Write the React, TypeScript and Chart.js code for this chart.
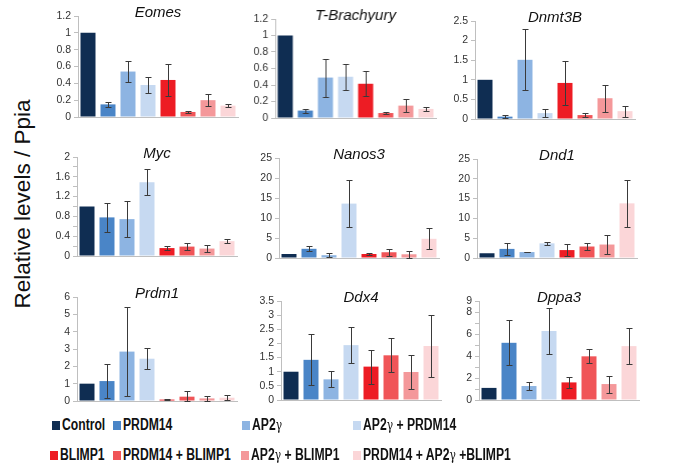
import React, { useEffect, useRef } from "react";
import { Chart, registerables } from "chart.js";

Chart.register(...registerables);

// ---------- data ----------
const groups = [
  "Control",
  "PRDM14",
  "AP2γ",
  "AP2γ + PRDM14",
  "BLIMP1",
  "PRDM14 + BLIMP1",
  "AP2γ + BLIMP1",
  "PRDM14 + AP2γ +BLIMP1",
];
const groupColors = [
  "#0f2d52",
  "#4a85c7",
  "#8db4e2",
  "#c6d9f1",
  "#ed1c24",
  "#f05558",
  "#f4989a",
  "#fbd6d8",
];

const eomesMean = [1.0, 0.15, 0.54, 0.38, 0.44, 0.06, 0.2, 0.135];
const eomesErr = [0, 0.03, 0.13, 0.1, 0.19, 0.015, 0.07, 0.015];
const tbraMean = [1.0, 0.09, 0.49, 0.5, 0.415, 0.06, 0.15, 0.11];
const tbraErr = [0, 0.025, 0.23, 0.16, 0.15, 0.01, 0.08, 0.025];
const dnmt3bMean = [1.0, 0.06, 1.51, 0.15, 0.92, 0.1, 0.53, 0.2];
const dnmt3bErr = [0, 0.04, 0.78, 0.1, 0.57, 0.05, 0.34, 0.14];
const mycMean = [1.0, 0.78, 0.745, 1.49, 0.16, 0.19, 0.15, 0.3];
const mycErr = [0, 0.3, 0.37, 0.26, 0.035, 0.07, 0.075, 0.045];
const nanos3Mean = [1.0, 2.3, 0.7, 13.6, 1.0, 1.44, 0.93, 4.8];
const nanos3Err = [0, 0.6, 0.5, 5.9, 0.3, 0.9, 0.9, 2.65];
const dnd1Mean = [1.2, 2.3, 1.5, 3.7, 2.0, 2.9, 3.4, 13.8];
const dnd1Err = [0, 1.5, 0.1, 0.3, 1.6, 1.0, 2.3, 5.95];
const prdm1Mean = [1.0, 1.15, 2.85, 2.44, 0.08, 0.25, 0.15, 0.19];
const prdm1Err = [0, 0.97, 2.55, 0.62, 0.05, 0.32, 0.14, 0.16];
const ddx4Mean = [1.0, 1.42, 0.73, 1.94, 1.18, 1.58, 0.99, 1.91];
const ddx4Err = [0, 0.9, 0.28, 0.63, 0.6, 0.6, 0.6, 1.1];
const dppa3Mean = [1.1, 5.2, 1.27, 6.27, 1.6, 3.97, 1.45, 4.9];
const dppa3Err = [0, 2.05, 0.35, 2.1, 0.47, 0.63, 0.77, 1.65];

// axis: [max, tick step, label step]
const eomesAxis = [1.2, 0.2, 0.2];
const tbraAxis = [1.2, 0.2, 0.2];
const dnmt3bAxis = [2.5, 0.5, 0.5];
const mycAxis = [2, 0.2, 0.4];
const nanos3Axis = [25, 5, 5];
const dnd1Axis = [25, 5, 5];
const prdm1Axis = [6, 1, 1];
const ddx4Axis = [3.5, 0.5, 0.5];
const dppa3Axis = [9, 1, 2];

const yAxisTitle = "Relative levels / Ppia";

// ---------- layout ----------
type Panel = {
  title: string;
  mean: number[];
  err: number[];
  axis: number[];
  rect: number[]; // plot area: left, top, right, bottom (page px)
};

const panels: Panel[] = [
  { title: "Eomes", mean: eomesMean, err: eomesErr, axis: eomesAxis, rect: [78, 16, 238, 117] },
  { title: "T-Brachyury", mean: tbraMean, err: tbraErr, axis: tbraAxis, rect: [275, 19, 435.5, 118] },
  { title: "Dnmt3B", mean: dnmt3bMean, err: dnmt3bErr, axis: dnmt3bAxis, rect: [475, 21, 635, 119] },
  { title: "Myc", mean: mycMean, err: mycErr, axis: mycAxis, rect: [77, 157, 237, 256] },
  { title: "Nanos3", mean: nanos3Mean, err: nanos3Err, axis: nanos3Axis, rect: [278.5, 158, 438.5, 258] },
  { title: "Dnd1", mean: dnd1Mean, err: dnd1Err, axis: dnd1Axis, rect: [477, 159, 637, 258] },
  { title: "Prdm1", mean: prdm1Mean, err: prdm1Err, axis: prdm1Axis, rect: [77, 297, 237, 401] },
  { title: "Ddx4", mean: ddx4Mean, err: ddx4Err, axis: ddx4Axis, rect: [280.5, 301, 440.5, 400] },
  { title: "Dppa3", mean: dppa3Mean, err: dppa3Err, axis: dppa3Axis, rect: [479, 301, 639, 400] },
];

const PL = 40;
const PT = 16;
const PR = 4;
const PB = 10;
const AXIS_COLOR = "#bfbfbf";
const FONT = "'Liberation Sans', Arial, sans-serif";

const errorBarPlugin = {
  id: "errorBars",
  afterDatasetsDraw(chart: any, _args: any, opts: any) {
    const err: number[] = opts.err || [];
    const meta = chart.getDatasetMeta(0);
    const yScale = chart.scales.y;
    const data = chart.data.datasets[0].data as number[];
    const ctx = chart.ctx;
    ctx.save();
    ctx.strokeStyle = "#3a3a3a";
    ctx.lineWidth = 1;
    meta.data.forEach((el: any, i: number) => {
      const e = err[i];
      if (!e) return;
      const v = data[i];
      const x = Math.round(el.x) + 0.5;
      const yt = Math.round(yScale.getPixelForValue(v + e)) + 0.5;
      const yb = Math.round(yScale.getPixelForValue(Math.max(v - e, 0))) + 0.5;
      ctx.beginPath();
      ctx.moveTo(x, yt);
      ctx.lineTo(x, yb);
      ctx.moveTo(x - 3, yt);
      ctx.lineTo(x + 3, yt);
      ctx.moveTo(x - 3, yb);
      ctx.lineTo(x + 3, yb);
      ctx.stroke();
    });
    ctx.restore();
  },
};

const panelTitlePlugin = {
  id: "panelTitle",
  afterDraw(chart: any, _args: any, opts: any) {
    const { ctx, chartArea } = chart;
    ctx.save();
    ctx.font = `italic 15px ${FONT}`;
    ctx.fillStyle = "#111";
    ctx.textAlign = "center";
    ctx.textBaseline = "middle";
    ctx.fillText(opts.text, (chartArea.left + chartArea.right) / 2, chartArea.top - 3);
    ctx.restore();
  },
};

function PanelChart({ panel }: { panel: Panel }) {
  const ref = useRef<HTMLCanvasElement>(null);
  const [l, t, r, b] = panel.rect;
  const w = r - l + PL + PR;
  const h = b - t + PT + PB;
  useEffect(() => {
    const [max, step, labelStep] = panel.axis;
    const chart = new Chart(ref.current as HTMLCanvasElement, {
      type: "bar",
      data: {
        labels: groups,
        datasets: [
          {
            data: panel.mean,
            backgroundColor: groupColors,
            borderWidth: 0,
            categoryPercentage: 1,
            barPercentage: 0.75,
          },
        ],
      },
      options: {
        animation: false,
        responsive: false,
        maintainAspectRatio: false,
        devicePixelRatio: 1,
        layout: { padding: { left: 0, top: PT, right: PR, bottom: PB } },
        plugins: {
          legend: { display: false },
          tooltip: { enabled: false },
          title: { display: false },
          errorBars: { err: panel.err },
          panelTitle: { text: panel.title },
        } as any,
        scales: {
          x: {
            grid: { display: false, drawTicks: false },
            border: { display: true, color: AXIS_COLOR, width: 1 },
            ticks: { display: false },
            afterFit: (s: any) => {
              s.height = 0;
            },
          },
          y: {
            min: 0,
            max,
            afterBuildTicks: (s: any) => {
              const ticks = [];
              const n = Math.round(max / step);
              for (let i = 0; i <= n; i++) ticks.push({ value: +(i * step).toFixed(4) });
              s.ticks = ticks;
            },
            ticks: {
              autoSkip: false,
              padding: 3,
              color: "#333",
              font: { family: FONT, size: 10.5 },
              callback: (v: any) => {
                const val = Number(v);
                const q = val / labelStep;
                const isLabel = Math.abs(q - Math.round(q)) < 1e-6 || Math.abs(val - max) < 1e-6;
                return isLabel ? String(+val.toFixed(2)) : "";
              },
            },
            grid: { drawOnChartArea: false, tickLength: 4, color: AXIS_COLOR },
            border: { display: true, color: AXIS_COLOR, width: 1 },
            afterFit: (s: any) => {
              s.width = PL;
            },
          },
        },
      },
      plugins: [errorBarPlugin, panelTitlePlugin],
    });
    return () => chart.destroy();
  }, []);
  return (
    <div style={{ position: "absolute", left: l - PL, top: t - PT, width: w, height: h }}>
      <canvas ref={ref} width={w} height={h} style={{ width: w, height: h, display: "block" }} />
    </div>
  );
}

const legendRow1 = [0, 1, 2, 3];
const legendRow2 = [4, 5, 6, 7];
const legendX1 = [52, 113, 242, 353];
const legendX2 = [50, 113, 241, 353];

function LegendLabel({ text }: { text: string }) {
  const parts = text.split("γ");
  const out: any[] = [];
  parts.forEach((p, i) => {
    out.push(<span key={"p" + i}>{p}</span>);
    if (i < parts.length - 1)
      out.push(
        <span key={"g" + i} style={{ fontWeight: "normal", fontFamily: "'DejaVu Serif', serif", fontSize: 14 }}>
          γ
        </span>
      );
  });
  return <span style={{ whiteSpace: "pre" }}>{out}</span>;
}

export default function App() {
  const legendItem = (idx: number, x: number, y: number) => (
    <div key={idx} style={{ position: "absolute", left: x, top: y - 10, height: 20 }}>
      <span
        style={{
          position: "absolute",
          left: 0,
          top: 6,
          width: 8,
          height: 9,
          background: groupColors[idx],
        }}
      />
      <div
        style={{
          position: "absolute",
          left: 10,
          top: 0,
          height: 20,
          lineHeight: "20px",
          whiteSpace: "nowrap",
          fontFamily: FONT,
          fontWeight: "bold",
          fontSize: 16,
          color: "#111",
          transform: "scaleX(0.76)",
          transformOrigin: "0 50%",
        }}
      >
        <LegendLabel text={groups[idx]} />
      </div>
    </div>
  );
  return (
    <div style={{ position: "absolute", left: 0, top: 0, width: 689, height: 466, background: "#fff", overflow: "hidden" }}>
      {panels.map((p) => (
        <PanelChart key={p.title} panel={p} />
      ))}
      <div
        style={{
          position: "absolute",
          left: 23,
          top: 204,
          transform: "translate(-50%, -50%) rotate(-90deg)",
          whiteSpace: "nowrap",
          fontFamily: FONT,
          fontSize: 22.5,
          color: "#111",
        }}
      >
        {yAxisTitle}
      </div>
      {legendRow1.map((idx, k) => legendItem(idx, legendX1[k], 425))}
      {legendRow2.map((idx, k) => legendItem(idx, legendX2[k], 455))}
    </div>
  );
}
